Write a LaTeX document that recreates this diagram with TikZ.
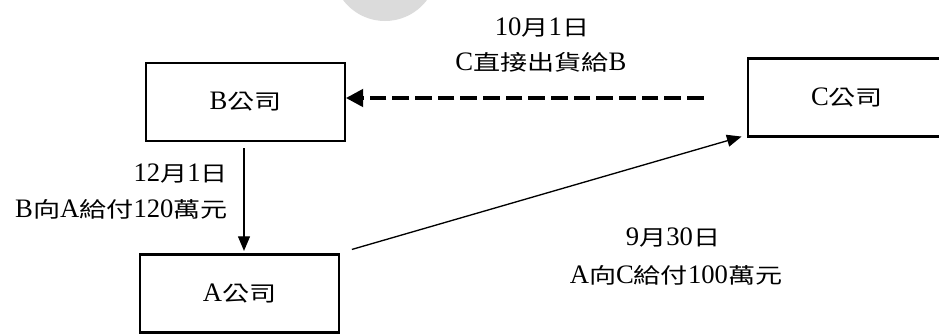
\documentclass[tikz,border=0pt]{standalone}
\usepackage{fontspec}
\setmainfont{Liberation Serif}
\newfontfamily\cjk[Scale=0.8,FakeStretch=1.27]{Noto Sans CJK TC}
\newcommand\zh[1]{{\cjk #1}}
\usetikzlibrary{arrows.meta,calc}
\begin{document}
\begin{tikzpicture}[x=0.75pt,y=-0.75pt,
  every node/.style={font=\fontsize{20}{24}\selectfont},
  company/.style={draw, line width=1.6pt, minimum width=149pt, minimum height=58.5pt, inner sep=0pt},
  label/.style={inner sep=0pt},
  thinarrow/.style={line width=1pt, -{Triangle[length=11pt,width=9pt]}},
  shiparrow/.style={line width=3pt, dash pattern=on 12.5pt off 4.5pt, -{Triangle[length=13pt,width=13pt]}}]
\useasboundingbox (0,0) rectangle (939,333);
\begin{scope}
  \clip (0,0) rectangle (939,333);
  \fill[black!14] (385,-31.5) circle (52.5);
\end{scope}
\node[company] (B) at (245.5,102) {B\zh{公司}};
\node[company] (C) at (847,97.5) {C\zh{公司}};
\node[company] (A) at (239.5,293.5) {A\zh{公司}};
\draw[shiparrow] ($(C.west)+(-43,0.5)$) -- ($(B.east)+(0,-4)$);
\draw[thinarrow] ($(B.south)+(-1.5,6)$) -- ($(A.north)+(4.5,-2.5)$);
\draw[thinarrow] ($(A.north east)+(12,-4)$) -- ($(C.south west)+(-5,-1)$);
\node[label] (t1) at (542,27) {10\zh{月}1\zh{日}};
\node[label] (t2) at (541,62) {C\zh{直接出貨給}B};
\node[label,anchor=east] (t3) at (228,174) {12\zh{月}1\zh{日}};
\node[label,anchor=east] (t4) at (228,209) {B\zh{向}A\zh{給付}120\zh{萬元}};
\node[label] (t5) at (673,237) {9\zh{月}30\zh{日}};
\node[label] (t6) at (676,275) {A\zh{向}C\zh{給付}100\zh{萬元}};
\end{tikzpicture}
\end{document}
